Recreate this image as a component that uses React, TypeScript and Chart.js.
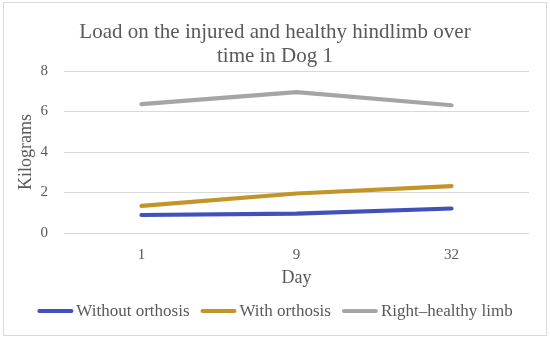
import React, { useEffect, useRef } from "react";
import { Chart, registerables } from "chart.js";

Chart.register(...registerables);

const days = ["1", "9", "32"];
const withoutOrthosis = [0.89, 0.96, 1.21];
const withOrthosis = [1.34, 1.95, 2.31];
const rightHealthy = [6.36, 6.96, 6.31];
const seriesNames = ["Without orthosis", "With orthosis", "Right\u2013healthy limb"];
const titleLines = ["Load on the injured and healthy hindlimb over", "time in Dog 1"];

const FONT = "'Liberation Serif', 'Times New Roman', serif";
const TEXT = "#595959";

const frame = {
  id: "frame",
  beforeDraw(chart: any) {
    const { ctx, width, height } = chart;
    ctx.save();
    ctx.fillStyle = "#ffffff";
    ctx.fillRect(0, 0, width, height);
    ctx.strokeStyle = "#d9d9d9";
    ctx.lineWidth = 1;
    ctx.strokeRect(3.5, 2.5, width - 7, height - 8);
    ctx.restore();
  },
};

const titleDraw = {
  id: "titleDraw",
  afterDraw(chart: any) {
    const { ctx, width } = chart;
    ctx.save();
    ctx.font = `21px ${FONT}`;
    ctx.fillStyle = TEXT;
    ctx.textAlign = "center";
    ctx.textBaseline = "alphabetic";
    titleLines.forEach((t, i) => {
      ctx.fillText(t, width / 2, 37.5 + i * 24.4);
    });
    ctx.restore();
  },
};

const customLegend = {
  id: "customLegend",
  afterDraw(chart: any) {
    const { ctx, width } = chart;
    const ds = chart.data.datasets;
    const lineW = 36;
    const gapText = 3;
    const gapItem = 11;
    ctx.save();
    ctx.font = `17px ${FONT}`;
    const widths = ds.map((d: any) => lineW + gapText + ctx.measureText(d.label).width);
    const total = widths.reduce((a: number, b: number) => a + b, 0) + gapItem * (ds.length - 1);
    let x = width / 2 - total / 2;
    const y = 311;
    ds.forEach((d: any, i: number) => {
      ctx.strokeStyle = d.borderColor;
      ctx.lineWidth = 4;
      ctx.lineCap = "round";
      ctx.beginPath();
      ctx.moveTo(x + 2, y);
      ctx.lineTo(x + lineW - 2, y);
      ctx.stroke();
      ctx.fillStyle = TEXT;
      ctx.textBaseline = "middle";
      ctx.textAlign = "left";
      ctx.fillText(d.label, x + lineW + gapText, y + 1);
      x += widths[i] + gapItem;
    });
    ctx.restore();
  },
};

export default function App() {
  const ref = useRef<HTMLCanvasElement>(null);
  useEffect(() => {
    if (!ref.current) return;
    const mk = (label: string, data: number[], color: string) => ({
      label,
      data,
      borderColor: color,
      backgroundColor: color,
      borderWidth: 4.2,
      pointRadius: 0,
      pointHoverRadius: 0,
      borderCapStyle: "round" as const,
      borderJoinStyle: "round" as const,
      tension: 0,
      fill: false,
    });
    const chart = new Chart(ref.current, {
      type: "line",
      data: {
        labels: days,
        datasets: [
          mk(seriesNames[0], withoutOrthosis, "#4151BC"),
          mk(seriesNames[1], withOrthosis, "#C39529"),
          mk(seriesNames[2], rightHealthy, "#A5A5A5"),
        ],
      },
      options: {
        responsive: false,
        animation: false,
        devicePixelRatio: 1,
        layout: { padding: { left: 8, right: 21, top: 71, bottom: 52 } },
        plugins: {
          legend: { display: false },
          tooltip: { enabled: false },
          title: { display: false },
        },
        scales: {
          x: {
            offset: true,
            grid: { display: false, drawTicks: false },
            border: { display: false },
            ticks: { color: TEXT, font: { family: FONT, size: 15 }, padding: 13 },
            title: {
              display: true,
              text: "Day",
              color: TEXT,
              font: { family: FONT, size: 18 },
              padding: { top: 0, bottom: 0 },
            },
            afterFit(scale: any) {
              scale.height = 56;
            },
          },
          y: {
            min: 0,
            max: 8,
            ticks: { stepSize: 2, color: TEXT, font: { family: FONT, size: 15 }, padding: 16 },
            grid: { color: "#d9d9d9", lineWidth: 1, drawTicks: false },
            border: { display: false },
            title: {
              display: true,
              text: "Kilograms",
              color: TEXT,
              font: { family: FONT, size: 18 },
              padding: { top: 7, bottom: 0 },
            },
            afterFit(scale: any) {
              scale.width = 56;
            },
          },
        },
      },
      plugins: [frame, titleDraw, customLegend],
    });
    return () => chart.destroy();
  }, []);
  return (
    <div style={{ position: "absolute", left: 0, top: 0, width: 550, height: 341 }}>
      <canvas ref={ref} width={550} height={341} />
    </div>
  );
}
